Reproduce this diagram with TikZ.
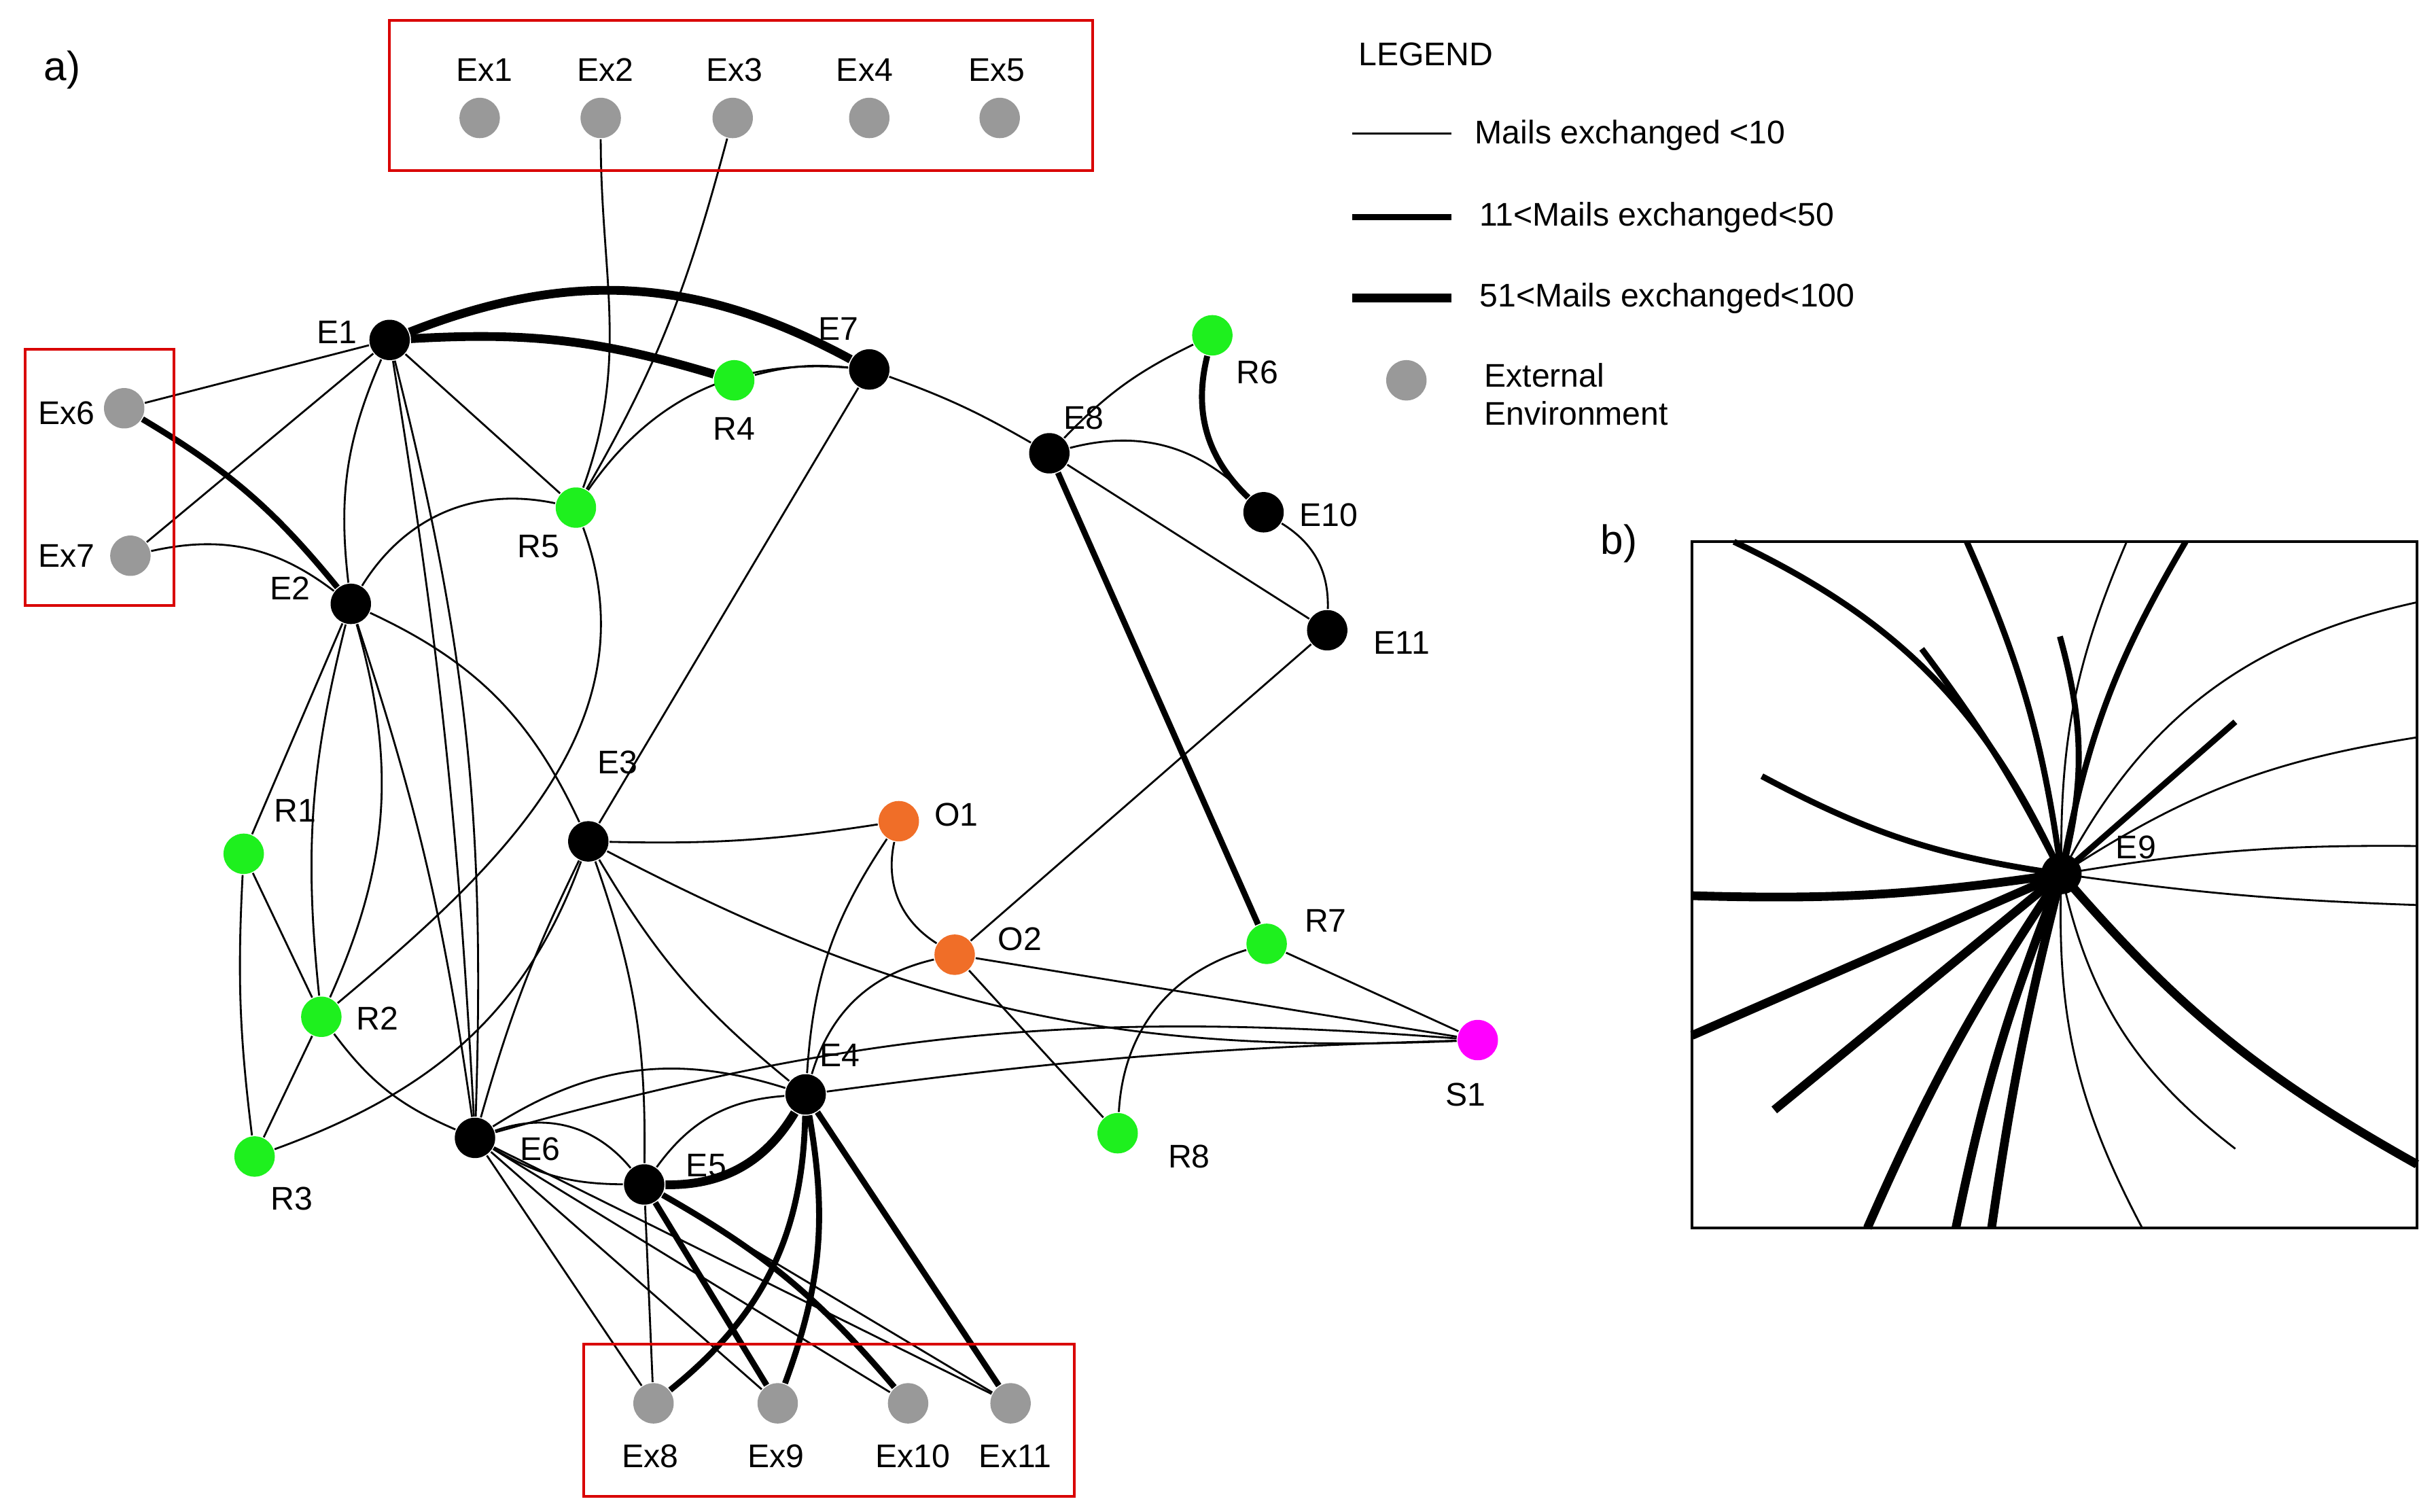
\documentclass[tikz,border=0pt]{standalone}
\usepackage{fontspec}
\setmainfont{Liberation Sans}
\pgfdeclarelayer{bg}
\pgfsetlayers{bg,main}
\definecolor{mg}{RGB}{255,0,255}
\definecolor{gn}{RGB}{30,240,30}
\definecolor{og}{RGB}{240,110,40}
\begin{document}
\begin{tikzpicture}[x=0.01cm,y=-0.01cm,
 n/.style={circle,minimum size=0.26cm,inner sep=0pt},
 blk/.style={n,fill=black},grn/.style={n,fill=gn},
 org/.style={n,fill=og},mag/.style={n,fill=mg},gry/.style={n,fill=black!40},
 t/.style={line width=0.35pt},m/.style={line width=1.1pt},k/.style={line width=1.6pt},
 lb/.style={font=\fontsize{6}{7}\selectfont,inner sep=1pt},
 box/.style={draw=red!85!black,line width=0.5pt}]
\useasboundingbox (0,0) rectangle (1568,974);
\begin{pgfonlayer}{bg}\fill[white] (0,0) rectangle (1568,974);\end{pgfonlayer}
% boxes
\draw[box] (251,13) rectangle (704,110);
\draw[box] (16,225) rectangle (112,390);
\draw[box] (376,866) rectangle (692,964);
\node[lb,font=\fontsize{7.5}{8}\selectfont] at (40,45) {a)};
\node[lb,font=\fontsize{7.5}{8}\selectfont] at (1043,350) {b)};
% nodes
\foreach \nm/\x/\y/\s in {Ex1/309/76/gry,Ex2/387/76/gry,Ex3/472/76/gry,Ex4/560/76/gry,Ex5/644/76/gry,
 Ex6/80/263/gry,Ex7/84/358/gry,E1/251/219/blk,E7/560/238/blk,R4/473/245/grn,R5/371/327/grn,
 E2/226/389/blk,E8/676/292/blk,R6/781/216/grn,E10/814/330/blk,E11/855/406/blk,
 R1/157/550/grn,R2/207/655/grn,R3/164/745/grn,E3/379/542/blk,O1/579/529/org,O2/615/615/org,
 R7/816/608/grn,S1/952/670/mag,E4/519/705/blk,E6/306/733/blk,E5/415/763/blk,R8/720/730/grn,
 Ex8/421/904/gry,Ex9/501/904/gry,Ex10/585/904/gry,Ex11/651/904/gry}
 {\node[\s] (\nm) at (\x,\y) {};}
% labels
\foreach \tx/\x/\y in {Ex1/312/45,Ex2/390/45,Ex3/473/45,Ex4/557/45,Ex5/642/45,Ex6/43/266,Ex7/43/358,
 E1/217/214,E7/540/212,R4/473/276,R5/347/352,E2/187/379,E8/698/269,R6/810/240,E10/856/332,E11/903/414,
 R1/190/522,R2/243/656,R3/188/772,E3/398/491,O1/616/525,O2/657/605,R7/854/593,S1/944/705,E4/541/680,
 E6/348/740,E5/455/751,R8/766/745,Ex8/419/938,Ex9/500/938,Ex10/588/938,Ex11/654/938}
 {\node[lb] at (\x,\y) {\tx};}
\begin{pgfonlayer}{bg}
\draw[t] (Ex2) to[out=-90,in=70] (R5);
\draw[t] (Ex3) to[out=-105,in=60] (R5);
\draw[t] (Ex6) -- (E1);
\draw[m] (Ex6) to[bend left=10] (E2);
\draw[t] (Ex7) -- (E1);
\draw[t] (Ex7) to[bend left=25] (E2);
\draw[k] (E1) to[bend left=25] (E7);
\draw[k] (E1) to[bend left=10] (R4);
\draw[t] (E1) to[bend right=15] (E2);
\draw[t] (E1) -- (R5);
\draw[t] (E1) to[bend left=8] (E6);
\draw[t] (E1) to[bend left=3] (E6);
\draw[t] (R5) to[bend left=30] (E7);
\draw[t] (R4) to[bend left=10] (E7);
\draw[t] (E2) to[bend left=35] (R5);
\draw[t] (R5) to[out=-70,in=40] (R2);
\draw[t] (E7) to[bend left=5] (E8);
\draw[t] (E7) -- (E3);
\draw[t] (E8) to[bend left=10] (R6);
\draw[m] (R6) to[bend right=30] (E10);
\draw[t] (E8) to[bend left=30] (E10);
\draw[t] (E8) -- (E11);
\draw[t] (E10) to[bend left=30] (E11);
\draw[m] (E8) -- (R7);
\draw[t] (E11) -- (O2);
\draw[t] (E2) -- (R1);
\draw[t] (E2) to[bend left=20] (R2);
\draw[t] (E2) to[bend right=10] (R2);
\draw[t] (E2) to[bend left=20] (E3);
\draw[t] (E2) to[bend left=5] (E6);
\draw[t] (R1) -- (R2);
\draw[t] (R1) to[bend right=5] (R3);
\draw[t] (R2) -- (R3);
\draw[t] (R2) to[bend right=15] (E6);
\draw[t] (E3) to[bend right=5] (O1);
\draw[t] (E3) to[bend right=5] (E6);
\draw[t] (E3) to[out=-110,in=20] (R3);
\draw[t] (E3) to[bend left=10] (E5);
\draw[t] (E3) to[bend right=10] (E4);
\draw[t] (E3) to[bend right=15] (S1);
\draw[t] (O1) to[bend right=35] (O2);
\draw[t] (O1) to[bend right=15] (E4);
\draw[t] (O2) to[bend right=30] (E4);
\draw[t] (O2) -- (S1);
\draw[t] (O2) -- (R8);
\draw[t] (R7) -- (S1);
\draw[t] (R7) to[bend right=35] (R8);
\draw[t] (E4) to[bend left=3] (S1);
\draw[t] (E6) to[bend left=10] (S1);
\draw[t] (E6) to[bend left=25] (E4);
\draw[t] (E6) to[bend left=35] (E5);
\draw[t] (E6) to[bend right=15] (E5);
\draw[t] (E6) -- (Ex8);
\draw[t] (E6) -- (Ex9);
\draw[t] (E6) -- (Ex10);
\draw[t] (E6) -- (Ex11);
\draw[k] (E5) to[bend right=30] (E4);
\draw[t] (E5) to[bend left=25] (E4);
\draw[t] (E5) -- (Ex8);
\draw[m] (E5) -- (Ex9);
\draw[m] (E5) to[bend left=10] (Ex10);
\draw[t] (E5) -- (Ex11);
\draw[m] (E4) to[bend left=25] (Ex8);
\draw[m] (E4) to[bend left=15] (Ex9);
\draw[m] (E4) -- (Ex11);
\end{pgfonlayer}
% legend
\node[lb,anchor=west] at (871,35) {LEGEND};
\coordinate (la) at (871,86); \coordinate (lb1) at (935,86);
\coordinate (lc) at (871,140); \coordinate (ld) at (935,140);
\coordinate (le) at (871,192); \coordinate (lf) at (935,192);
\draw[t] (la) -- (lb1); \draw[m] (lc) -- (ld); \draw[k] (le) -- (lf);
\node[lb,anchor=west] at (946,87) {Mails exchanged <10};
\node[lb,anchor=west] at (949,140) {11<Mails exchanged<50};
\node[lb,anchor=west] at (949,192) {51<Mails exchanged<100};
\node[gry] (lg) at (906,245) {};
\node[lb,anchor=west,align=left] at (952,254) {External\\Environment};
% panel b
\draw[line width=0.5pt] (1090,349) rectangle (1557,791);
\node[blk] (E9) at (1328,563) {};
\node[lb] at (1376,546) {E9};
\begin{pgfonlayer}{bg}
\foreach \x/\y/\s/\b in {1117/349/m/-20,1267/349/m/-8,1408/349/m/10,1370/349/t/12,1238/418/m/-5,1327/410/m/-15,
 1440/465/m/0,1557/388/t/25,1557/475/t/12,1557/545/t/5,1557/583/t/-3,1557/750/k/-10,1135/500/m/10,
 1090/577/k/5,1090/667/k/0,1143/715/k/0,1203/791/k/-5,1260/791/k/-5,1283/791/k/-3,1380/791/t/-15,1440/740/t/-20}
 {\coordinate (p) at (\x,\y); \draw[\s] (E9.center) to[bend left=\b] (p);}
\end{pgfonlayer}
\end{tikzpicture}
\end{document}
